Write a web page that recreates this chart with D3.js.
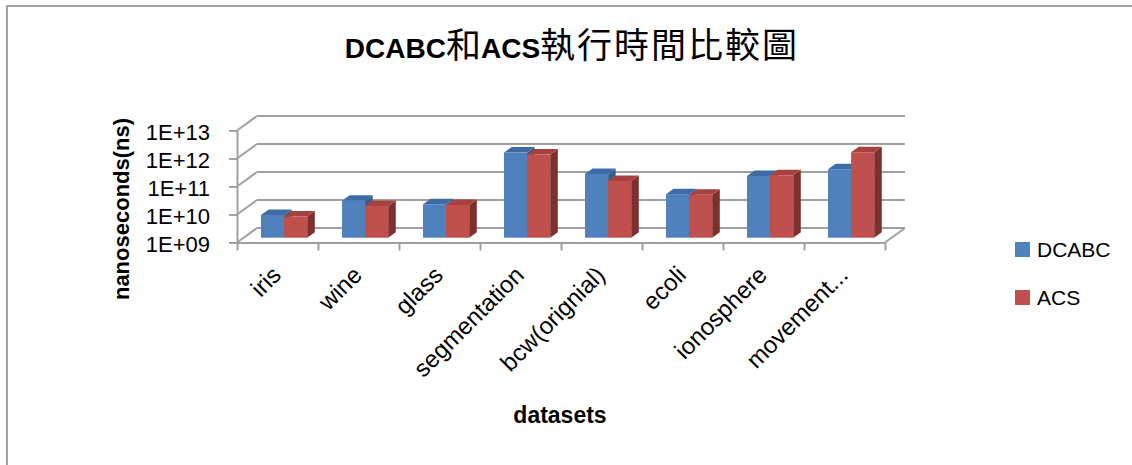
<!DOCTYPE html>
<html>
<head>
<meta charset="utf-8">
<script src="https://cdn.jsdelivr.net/npm/d3@7/dist/d3.min.js"></script>
<style>
  html, body { margin: 0; padding: 0; background: #fff; }
  svg { display: block; }
</style>
</head>
<body>
<svg id="chart" width="1132" height="465"></svg>
<script>
// ---- data ----
const categories = ["iris", "wine", "glass", "segmentation", "bcw(orignial)", "ecoli", "ionosphere", "movement..."];
const seriesNames = ["DCABC", "ACS"];
const dcabc = [6.5e9, 2.1e10, 1.57e10, 1.1e12, 1.9e11, 3.6e10, 1.6e11, 2.8e11];
const acs   = [5.7e9, 1.37e10, 1.48e10, 9.3e11, 1.07e11, 3.4e10, 1.7e11, 1.13e12];
const yTicks = [1e9, 1e10, 1e11, 1e12, 1e13];
const titleParts = [["DCABC", "lat"], ["和", "cjk"], ["ACS", "lat"], ["執行時間比較圖", "cjk"]];
const yTitle = "nanoseconds(ns)";
const xTitle = "datasets";

const seriesValues = [dcabc, acs];
const colors = [
  { front: "#4F81BD", top: "#3D6BA5", side: "#385D8A" },
  { front: "#C0504D", top: "#A7413E", side: "#7E302E" }
];

const svg = d3.select("#chart");
const LAT = '"Liberation Sans", Arial, sans-serif';
const CJK = '"Noto Sans CJK TC", "Noto Sans CJK SC", sans-serif';

// chart border
svg.append("rect").attr("x", 7).attr("y", 6).attr("width", 1140).attr("height", 480)
  .attr("fill", "#fff").attr("stroke", "#8c8c8c").attr("stroke-width", 1.6);

// scales
const x = d3.scaleBand().domain(categories).range([237, 885]).paddingInner(0).paddingOuter(0);
const y = d3.scaleLog().domain([1e9, 1e13]).range([242.5, 130.5]);
const DX = 20, DY = -14.5;          // depth vector of the 3D box
const fFront = 0.33, fBack = 0.71;  // bar depth fractions
const clusterW = x.bandwidth() * 0.57;
const xs = d3.scaleBand().domain(seriesNames).range([0, clusterW]);

const grid = "#a0a0a0";

// back wall gridlines + left wall diagonals
const g3d = svg.append("g");
yTicks.forEach(t => {
  const yy = y(t);
  g3d.append("line")
    .attr("x1", x.range()[0] + DX).attr("x2", x.range()[1] + DX)
    .attr("y1", yy + DY).attr("y2", yy + DY)
    .attr("stroke", grid).attr("stroke-width", 2);
  g3d.append("line")
    .attr("x1", x.range()[0]).attr("y1", yy)
    .attr("x2", x.range()[0] + DX).attr("y2", yy + DY)
    .attr("stroke", grid).attr("stroke-width", 2);
});
// floor right edge
g3d.append("line")
  .attr("x1", x.range()[1]).attr("y1", y(1e9))
  .attr("x2", x.range()[1] + DX).attr("y2", y(1e9) + DY)
  .attr("stroke", grid).attr("stroke-width", 2);

// bars
const bars = svg.append("g");
categories.forEach((c, i) => {
  seriesNames.forEach((s, j) => {
    const v = seriesValues[j][i];
    const cx = x(c) + x.bandwidth() / 2 - clusterW / 2 + xs(s);
    const w = xs.bandwidth();
    const x0 = cx + DX * fFront, x1 = x0 + w;
    const yb = y(1e9) + DY * fFront, yt = y(v) + DY * fFront;
    const ddx = DX * (fBack - fFront), ddy = DY * (fBack - fFront);
    const col = colors[j];
    bars.append("polygon")
      .attr("points", [[x1, yb], [x1 + ddx, yb + ddy], [x1 + ddx, yt + ddy], [x1, yt]].map(p => p.join(",")).join(" "))
      .attr("fill", col.side);
    bars.append("polygon")
      .attr("points", [[x0, yt], [x1, yt], [x1 + ddx, yt + ddy], [x0 + ddx, yt + ddy]].map(p => p.join(",")).join(" "))
      .attr("fill", col.top);
    bars.append("rect")
      .attr("x", x0).attr("y", yt).attr("width", w).attr("height", yb - yt)
      .attr("fill", col.front);
  });
});

// y axis (front)
const yAxis = d3.axisLeft(y).tickValues(yTicks)
  .tickFormat(d => "1E+" + String(Math.round(Math.log10(d))).padStart(2, "0"))
  .tickSize(8).tickSizeOuter(0).tickPadding(19);
const gy = svg.append("g").attr("transform", "translate(237,0)").call(yAxis);
gy.select(".domain").attr("stroke", grid).attr("stroke-width", 2);
gy.selectAll(".tick line").attr("stroke", grid).attr("stroke-width", 2);
gy.selectAll(".tick text").attr("font-family", LAT).attr("font-size", 22).attr("fill", "#000")
  .attr("dy", "0.42em");

// x axis (front floor edge), ticks at category boundaries
const xb = d3.scaleLinear().domain([0, categories.length]).range(x.range());
const xAxis = d3.axisBottom(xb).tickValues(d3.range(categories.length + 1))
  .tickFormat("").tickSize(8).tickSizeOuter(0);
const gx = svg.append("g").attr("transform", `translate(0,${y(1e9)})`).call(xAxis);
gx.select(".domain").attr("stroke", grid).attr("stroke-width", 2);
gx.selectAll(".tick line").attr("stroke", grid).attr("stroke-width", 2);

// category labels
const xLab = d3.axisBottom(x).tickSize(0).tickPadding(0);
const gl = svg.append("g").attr("transform", `translate(0,${y(1e9)})`).call(xLab);
gl.select(".domain").remove();
gl.selectAll(".tick text")
  .attr("font-family", LAT).attr("font-size", 24).attr("fill", "#000")
  .attr("text-anchor", "end")
  .attr("transform", "translate(5,34) rotate(-45)")
  .attr("dy", 0).attr("y", 0);

// title
const title = svg.append("text").attr("x", 572).attr("y", 58).attr("text-anchor", "middle");
titleParts.forEach(([t, k]) => {
  const ts = title.append("tspan").text(t);
  if (k === "lat") ts.attr("font-family", LAT).attr("font-weight", "bold").attr("font-size", 28);
  else ts.attr("font-family", CJK).attr("font-size", 35).attr("font-weight", 400)
    .attr("letter-spacing", t.length > 1 ? 2 : 0);
});

// axis titles
svg.append("text").attr("transform", "translate(129,209) rotate(-90)")
  .attr("text-anchor", "middle").attr("font-family", LAT).attr("font-weight", "bold")
  .attr("font-size", 22).text(yTitle);
svg.append("text").attr("x", 560).attr("y", 423).attr("text-anchor", "middle")
  .attr("font-family", LAT).attr("font-weight", "bold").attr("font-size", 23).text(xTitle);

// legend
const lg = svg.append("g");
seriesNames.forEach((s, j) => {
  const yy = 242 + j * 48;
  lg.append("rect").attr("x", 1015).attr("y", yy).attr("width", 15).attr("height", 15).attr("fill", colors[j].front);
  lg.append("text").attr("x", 1037).attr("y", yy + 15).attr("font-family", LAT).attr("font-size", 21).text(s);
});
</script>
</body>
</html>
